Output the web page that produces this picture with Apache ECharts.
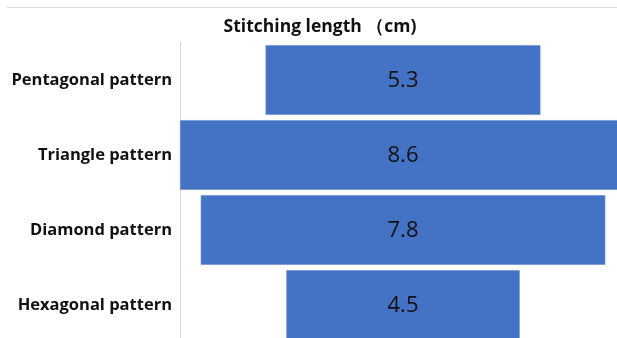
<!DOCTYPE html>
<html>
<head>
<meta charset="utf-8">
<script src="https://cdn.jsdelivr.net/npm/echarts@6/dist/echarts.min.js"></script>
<style>
  html, body { margin: 0; padding: 0; background: #ffffff; }
  #chart { width: 617px; height: 338px; }
</style>
</head>
<body>
<div id="chart"></div>
<script>
// Stitching length per pattern, drawn as a centred (funnel-style) bar chart
const categories = ['Pentagonal pattern', 'Triangle pattern', 'Diamond pattern', 'Hexagonal pattern'];
const lengths = [5.3, 8.6, 7.8, 4.5];
const chartTitle = 'Stitching length （cm)';

const maxLen = Math.max(...lengths);
// invisible spacer so each bar is centred on the widest one
const spacer = lengths.map(v => (maxLen - v) / 2);

const chart = echarts.init(document.getElementById('chart'));
chart.setOption({
  animation: false,
  title: {
    text: chartTitle,
    left: 315,
    textAlign: 'center',
    top: 13,
    textStyle: { fontFamily: 'Open Sans', fontSize: 17.5, fontWeight: 'bold', color: '#111111' }
  },
  graphic: [{
    type: 'line',
    shape: { x1: 7, y1: 7.5, x2: 617, y2: 7.5 },
    style: { stroke: '#d9d9d9', lineWidth: 1 }
  }],
  grid: { left: 180, top: 42.5, width: 446, height: 300, outerBoundsMode: 'none' },
  xAxis: {
    type: 'value', min: 0, max: maxLen, show: false
  },
  yAxis: {
    type: 'category',
    data: categories,
    inverse: true,
    axisLine: { show: true, lineStyle: { color: '#d9d9d9', width: 1 } },
    axisTick: { show: false },
    axisLabel: {
      margin: 8,
      fontFamily: 'Open Sans', fontSize: 16.5, fontWeight: 'bold', color: '#111111'
    }
  },
  series: [
    {
      type: 'bar', stack: 'len', data: spacer, barWidth: '93%',
      itemStyle: { color: 'transparent' }, silent: true
    },
    {
      type: 'bar', stack: 'len', data: lengths, barWidth: '93%',
      itemStyle: { color: '#4472c4', borderColor: '#6a8fd0', borderWidth: 0.6 },
      label: {
        show: true, position: 'inside', offset: [0, 1],
        fontFamily: 'Open Sans', fontSize: 22, color: '#111111',
        formatter: p => p.value.toFixed(1)
      }
    }
  ]
});
</script>
</body>
</html>
